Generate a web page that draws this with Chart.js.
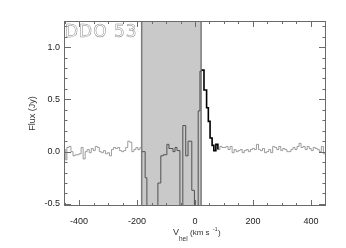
<!DOCTYPE html>
<html>
<head>
<meta charset="utf-8">
<script src="https://cdn.jsdelivr.net/npm/chart.js@4"></script>
<style>
  html, body { margin: 0; padding: 0; background: #fff; }
  #wrap { width: 346px; height: 248px; }
</style>
</head>
<body>
<div id="wrap"><canvas id="spec" width="346" height="248"></canvas></div>
<script>
// spectrum channels (km/s) and flux (Jy)
const vel = [
  -452, -446, -442, -435, -428, -421, -414, -400, -393, -386,
  -379, -372, -365, -358, -351, -344, -337, -330, -323, -316,
  -309, -302, -295, -288, -281, -274, -267, -260, -253, -246,
  -239, -232, -225, -218, -211, -204, -197, -190,
  -184, -172, -166, -128, -118, -110, -97, -90, -83, -76,
  -69, -62, -52, -42, -32, -24, -11, -2, 11, 17,
  23, 31, 40, 46, 52, 59, 65, 72, 79,
  86, 93, 100, 107, 114, 121, 128, 135, 142, 149,
  156, 163, 170, 177, 184, 191, 198, 205, 212, 219,
  226, 233, 240, 247, 254, 261, 268, 275, 282, 289,
  296, 303, 310, 317, 324, 331, 338, 345, 352, 359,
  366, 373, 380, 387, 394, 401, 408, 415, 422, 429,
  436, 443, 452
];
const flux = [
  0.02, -0.08, 0.04, 0.05, 0.0, -0.04, -0.03, -0.02, 0.04, -0.07,
  0.0, 0.02, -0.01, 0.03, 0.01, 0.05, 0.04, 0.0, -0.01, 0.01,
  -0.02, -0.01, -0.04, 0.02, 0.04, 0.03, 0.04, 0.01, 0.0, 0.01,
  0.04, 0.1, 0.09, 0.0, 0.02, 0.04, 0.02, 0.04,
  0.0, -0.25, -0.9, -0.3, -0.04, -0.03, 0.07, 0.03, 0.03, 0.0,
  0.04, 0.01, -0.9, 0.25, -0.04, 0.1, -0.37, -0.9, 0.39, 0.77,
  0.78, 0.59, 0.42, 0.29, 0.13, 0.06, 0.01, 0.07, 0.02,
  0.05, 0.04, 0.04, 0.05, 0.02, 0.05, -0.01, 0.02, 0.0, 0.01,
  0.02, -0.01, 0.01, 0.02, 0.0, 0.02, 0.03, 0.02, 0.07, 0.02,
  0.01, 0.03, -0.01, 0.0, 0.02, -0.01, 0.05, 0.04, 0.02, 0.05,
  0.01, 0.03, 0.02, 0.0, 0.0, 0.02, 0.04, 0.02, 0.05, 0.08,
  0.04, 0.05, 0.02, 0.05, 0.03, 0.01, 0.04, 0.03, 0.02, 0.0,
  0.05, -0.02, -0.02
];

// masked (galactic) velocity window and the emission part drawn in black
const shadeFrom = -184;
const shadeTo = 21;
const emisFrom = 23;
const emisTo = 79;

const xTicks = [-400, -200, 0, 200, 400];
const yTicks = [-0.5, 0.0, 0.5, 1.0];
const galaxy = "DDO 53";

function segment(a, b) {
  const pts = [];
  vel.forEach((v, i) => {
    if (v >= a && v <= b) pts.push({ x: v, y: flux[i] });
  });
  return pts;
}

// each channel value is held until the next channel
const lineDs = (data, color, width) => ({
  data: data,
  borderColor: color,
  borderWidth: width,
  pointRadius: 0,
  stepped: "before",
  fill: false,
});

const shadePlugin = {
  id: "shade",
  beforeDatasetsDraw(chart) {
    const { ctx, chartArea, scales } = chart;
    const x0 = scales.x.getPixelForValue(shadeFrom);
    const x1 = scales.x.getPixelForValue(shadeTo);
    ctx.save();
    ctx.fillStyle = "#c9c9c9";
    ctx.fillRect(x0, chartArea.top, x1 - x0, chartArea.bottom - chartArea.top);
    ctx.strokeStyle = "#7a7a7a";
    ctx.lineWidth = 1.5;
    ctx.beginPath();
    ctx.moveTo(x0, chartArea.top);
    ctx.lineTo(x0, chartArea.bottom);
    ctx.moveTo(x1, chartArea.top);
    ctx.lineTo(x1, chartArea.bottom);
    ctx.stroke();
    ctx.restore();
  },
};

const framePlugin = {
  id: "frame",
  afterDraw(chart) {
    const { ctx, chartArea, scales } = chart;
    const { left, right, top, bottom } = chartArea;
    ctx.save();
    ctx.strokeStyle = "#6a6a6a";
    ctx.lineWidth = 1;
    ctx.strokeRect(left + 0.5, top + 0.5, right - left - 1, bottom - top - 1);

    ctx.beginPath();
    for (let v = -450; v <= 450; v += 50) {
      const x = Math.round(scales.x.getPixelForValue(v)) + 0.5;
      const len = v % 200 === 0 ? 6 : 3;
      ctx.moveTo(x, bottom);
      ctx.lineTo(x, bottom - len);
      ctx.moveTo(x, top);
      ctx.lineTo(x, top + len);
    }
    for (let k = -5; k <= 12; k++) {
      const y = Math.round(scales.y.getPixelForValue(k / 10)) + 0.5;
      const len = k % 5 === 0 ? 7 : 3.5;
      ctx.moveTo(left, y);
      ctx.lineTo(left + len, y);
      ctx.moveTo(right, y);
      ctx.lineTo(right - len, y);
    }
    ctx.stroke();

    // object name, outlined like the vector font
    ctx.font = "17px 'DejaVu Sans'";
    ctx.textBaseline = "alphabetic";
    ctx.strokeStyle = "#8a8a8a";
    ctx.lineWidth = 0.5;
    if ("letterSpacing" in ctx) ctx.letterSpacing = "1px";
    ctx.strokeText(galaxy, left + 1, top + 16);
    if ("letterSpacing" in ctx) ctx.letterSpacing = "0px";

    // axis titles
    ctx.fillStyle = "#333";
    ctx.font = "9px 'Liberation Sans'";
    ctx.fillText("V", 173, 235);
    ctx.font = "6.5px 'Liberation Sans'";
    ctx.fillText("hel", 179, 241);
    ctx.font = "8px 'Liberation Sans'";
    ctx.fillText("(km s", 190, 235);
    ctx.font = "5px 'Liberation Sans'";
    ctx.fillText("-1", 213, 231);
    ctx.font = "8px 'Liberation Sans'";
    ctx.fillText(")", 218, 235);

    ctx.save();
    ctx.translate(35, (top + bottom) / 2);
    ctx.rotate(-Math.PI / 2);
    ctx.textAlign = "center";
    ctx.font = "9px 'Liberation Sans'";
    ctx.fillText("Flux (Jy)", 0, 0);
    ctx.restore();
    ctx.restore();
  },
};

new Chart(document.getElementById("spec").getContext("2d"), {
  type: "line",
  data: {
    datasets: [
      lineDs(segment(-460, shadeFrom), "#858585", 0.8),
      lineDs(segment(shadeFrom, emisFrom), "#505050", 1),
      lineDs(segment(emisFrom, emisTo), "#000000", 1.6),
      lineDs(segment(emisTo, 460), "#858585", 0.8),
    ],
  },
  options: {
    responsive: false,
    animation: false,
    devicePixelRatio: 1,
    layout: { padding: { top: 21, right: 20, left: 0, bottom: 0 } },
    plugins: { legend: { display: false }, tooltip: { enabled: false } },
    scales: {
      x: {
        type: "linear",
        min: -452,
        max: 452,
        grid: { display: false, drawTicks: false },
        border: { display: false },
        afterBuildTicks: (s) => { s.ticks = xTicks.map((v) => ({ value: v })); },
        afterFit: (s) => { s.height = 42; },
        ticks: {
          padding: 10,
          color: "#222",
          font: { family: "'Liberation Sans'", size: 9 },
          maxRotation: 0,
        },
      },
      y: {
        type: "linear",
        min: -0.52,
        max: 1.25,
        grid: { display: false, drawTicks: false },
        border: { display: false },
        afterBuildTicks: (s) => { s.ticks = yTicks.map((v) => ({ value: v })); },
        afterFit: (s) => { s.width = 64; },
        ticks: {
          padding: 4,
          color: "#222",
          font: { family: "'Liberation Sans'", size: 9 },
          callback: (v) => Number(v).toFixed(1),
        },
      },
    },
  },
  plugins: [shadePlugin, framePlugin],
});
</script>
</body>
</html>
